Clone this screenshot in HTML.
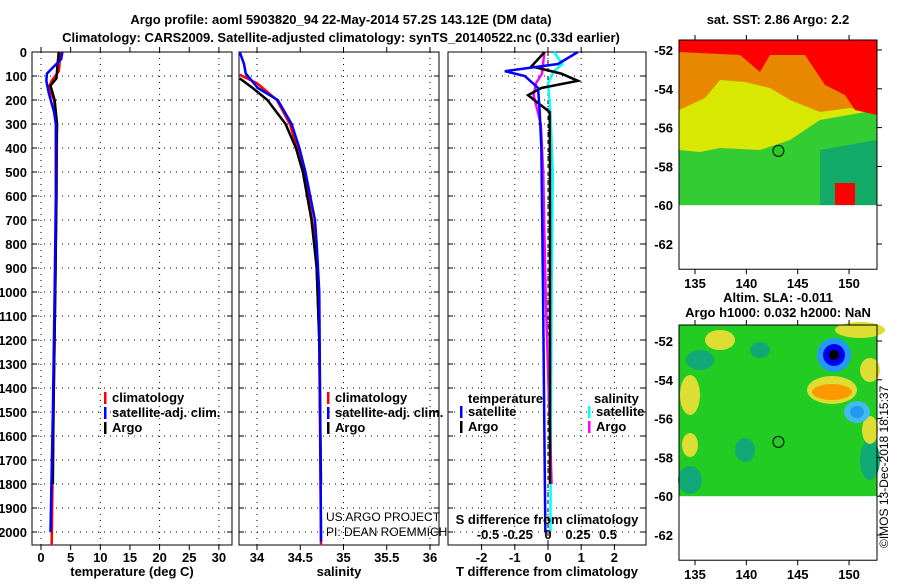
<!DOCTYPE html>
<html><head><meta charset="utf-8"><style>
body{margin:0;background:#fff}
svg text{font-family:"Liberation Sans",sans-serif;font-weight:bold;font-size:13px}
svg text.nb{font-weight:normal;font-size:12px}
</style></head><body>
<svg id="c" width="900" height="580" xmlns="http://www.w3.org/2000/svg">
<text x="341" y="24" text-anchor="middle" font-size="14">Argo profile: aoml 5903820_94 22-May-2014 57.2S 143.12E (DM data)</text>
<text x="341" y="42" text-anchor="middle" font-size="14">Climatology: CARS2009. Satellite-adjusted climatology: synTS_20140522.nc (0.33d earlier)</text>
<g id="maps"></g>
<g id="plots"></g>
</svg>
<script>
// depth ticks
const depthTicks=[0,100,200,300,400,500,600,700,800,900,1000,1100,1200,1300,1400,1500,1600,1700,1800,1900,2000];
// temperature panel
const tTicks=[0,5,10,15,20,25,30];
const tDepthArgo=[0,50,80,110,140,200,300,400,600,1000,1500,1800];
const tArgo=[3.0,2.8,2.7,2.6,1.6,2.3,2.7,2.6,2.6,2.4,2.1,2.0];
const tDepthClim=[0,60,80,120,150,200,300,600,1000,1500,2055];
const tClim=[3.2,3.1,3.0,1.8,1.3,2.2,2.7,2.6,2.4,2.1,1.8];
const tDepthSat=[0,30,60,90,120,170,250,300,600,1000,1500,2000];
const tSat=[3.6,3.4,2.2,1.0,0.9,1.3,2.2,2.5,2.5,2.3,2.0,1.6];
// salinity panel
const sTicks=[34,34.5,35,35.5,36];
const sDepthSat=[0,50,90,150,200,300,400,500,700,800,1000,2000,2040];
const sSat=[33.80,33.85,33.87,34.01,34.24,34.40,34.49,34.56,34.67,34.69,34.72,34.74,34.74];
const sDepthClim=[95,130,200,300,500,800,1200,2055];
const sClim=[33.80,34.0,34.23,34.38,34.55,34.68,34.72,34.74];
const sDepthArgo=[110,150,200,300,400,500,700,900,1200,1800];
const sArgo=[33.80,33.95,34.12,34.33,34.45,34.53,34.63,34.69,34.72,34.74];
// difference panel
const dtTicks=[-2,-1,0,1,2];
const dsTicks=[-0.5,-0.25,0,0.25,0.5];
const dDepthTS=[0,50,80,100,150,250,400,1000,2000];
const dTSat=[0.9,0.3,-1.3,-0.7,-0.3,-0.25,-0.2,-0.15,-0.08];
const dDepthTA=[0,60,90,120,150,180,250,500,1000,1800];
const dTArgo=[-0.1,-0.5,0.4,0.9,-0.2,-0.6,0.05,0.06,0.06,0.06];
const dDepthSS=[0,50,80,130,250,500,1000,2000];
const dSSat=[0.05,0.12,0.05,0,0.02,0.04,0.03,0.02];
const dDepthSA=[0,90,130,180,300,500,1000,1800];
const dSArgo=[-0.03,-0.05,-0.1,-0.12,-0.06,-0.04,-0.02,0.03];
// maps
const lonTicks=[135,140,145,150];
const latTicks=[-52,-54,-56,-58,-60,-62];
const argoLon=143.12, argoLat=-57.2;

const NS="http://www.w3.org/2000/svg";
function mk(tag,attrs,parent,txt){const e=document.createElementNS(NS,tag);for(const k in attrs)e.setAttribute(k,attrs[k]);if(txt!==undefined)e.textContent=txt;parent.appendChild(e);return e;}
const plots=document.getElementById('plots');
const top0=52,bot=545;
const yD=d=>top0+d*0.24;

function panel(name,x0,x1,xs,ticks,tickFmt,gridVals){
  const g=mk('g',{},plots);
  
  
  depthTicks.forEach(d=>{if(d>0)mk('line',{x1:x0,x2:x1,y1:yD(d),y2:yD(d),stroke:'#000','stroke-dasharray':'1,5'},g);});
  gridVals.forEach(v=>mk('line',{x1:xs(v),x2:xs(v),y1:top0,y2:bot,stroke:'#000','stroke-dasharray':'1,5'},g));
  depthTicks.forEach(d=>{mk('line',{x1:x0,x2:x0+5,y1:yD(d),y2:yD(d),stroke:'#000'},g);mk('line',{x1:x1-5,x2:x1,y1:yD(d),y2:yD(d),stroke:'#000'},g);});
  ticks.forEach(v=>{mk('line',{x1:xs(v),x2:xs(v),y1:bot,y2:bot+5,stroke:'#000'},g);mk('line',{x1:xs(v),x2:xs(v),y1:top0-5,y2:top0,stroke:'#000'},g);
    const t=mk('text',{x:xs(v),y:bot+17,'text-anchor':'middle'},g,tickFmt(v));});
  mk('rect',{x:x0,y:top0,width:x1-x0,height:bot-top0,fill:'none',stroke:'#000'},g);
  return g;
}
function line(g,xs,vals,depths,color,name,w){
  const p=mk('polyline',{points:vals.map((v,i)=>xs(v)+','+yD(depths[i])).join(' '),fill:'none',stroke:color,'stroke-width':w||2.5},g);
  
  
}
function legend(g,x,y,items){
  items.forEach((it,i)=>{mk('rect',{x:x,y:y+i*15-10,width:2.5,height:12,fill:it[1]},g);
    const t=mk('text',{x:x+8,y:y+i*15},g,it[0]);});
}
// depth labels
depthTicks.forEach(d=>{const t=mk('text',{x:27,y:yD(d)+5,'text-anchor':'end'},plots,String(d));});

// panel 1
const xT=v=>41+v*5.93;
const g1=panel('temperature-panel',32,232,xT,tTicks,String,[0,10,20,30]);
line(g1,xT,tClim,tDepthClim,'#f00','temp-climatology');
line(g1,xT,tArgo,tDepthArgo,'#000','temp-argo');
line(g1,xT,tSat,tDepthSat,'#00f','temp-satellite');
legend(g1,104,402,[['climatology','#f00'],['satellite-adj. clim.','#00f'],['Argo','#000']]);
mk('text',{x:132,y:576,'text-anchor':'middle'},g1,'temperature (deg C)');

// panel 2
const xS=v=>257+(v-34)*86.5;
const g2=panel('salinity-panel',239,439,xS,sTicks,String,[34,35,36]);
line(g2,xS,sClim,sDepthClim,'#f00','sal-climatology');
line(g2,xS,sArgo,sDepthArgo,'#000','sal-argo');
line(g2,xS,sSat,sDepthSat,'#00f','sal-satellite');
legend(g2,327,402,[['climatology','#f00'],['satellite-adj. clim.','#00f'],['Argo','#000']]);
mk('text',{x:339,y:576,'text-anchor':'middle'},g2,'salinity');
const c1=mk('text',{x:326,y:521,'class':'nb'},g2,'US ARGO PROJECT');
const c2=mk('text',{x:326,y:536,'class':'nb'},g2,'PI: DEAN ROEMMICH');

// panel 3
const xDT=v=>548+v*33.2;
const xDS=v=>548+v*120;
const g3=panel('difference-panel',448,646,xDT,dtTicks,String,[-2,-1,0,1,2]);
mk('line',{x1:548,x2:548,y1:top0,y2:bot,stroke:'#000','stroke-dasharray':'4,4'},g3);
line(g3,xDS,dSSat,dDepthSS,'#0ff','sdiff-satellite');
line(g3,xDS,dSArgo,dDepthSA,'#f0f','sdiff-argo');
line(g3,xDT,dTArgo,dDepthTA,'#000','tdiff-argo');
line(g3,xDT,dTSat,dDepthTS,'#00f','tdiff-satellite');
mk('text',{x:468,y:403},g3,'temperature');
legend(g3,460,416,[['satellite','#00f'],['Argo','#000']]);
mk('text',{x:594,y:403},g3,'salinity');
legend(g3,588,416,[['satellite','#0ff'],['Argo','#f0f']]);
mk('text',{x:547,y:524,'text-anchor':'middle'},g3,'S difference from climatology');
dsTicks.forEach(v=>mk('text',{x:xDS(v),y:539,'text-anchor':'middle'},g3,String(v)));
mk('text',{x:547,y:576,'text-anchor':'middle'},g3,'T difference from climatology');

// maps
const maps=document.getElementById('maps');
function map(name,yTop,yM52,title,draw){
  const g=mk('g',{},maps);
  
  
  const x0=679,x1=877,yb=yTop+(yM52-yTop)+(-63.3+52)*-19.4;
  const lx=v=>695+(v-135)*10.27, ly=v=>yM52+(-52-v)*19.4;
  draw(g,lx,ly,x0,x1);
  mk('rect',{x:x0,y:ly(-60),width:x1-x0,height:yb-ly(-60),fill:'#fff'},g);
  mk('circle',{cx:lx(argoLon),cy:ly(argoLat),r:5.5,fill:name==='sst-map'?'#2c2':'none',stroke:'#000'},g);
  mk('rect',{x:x0,y:yTop,width:x1-x0,height:yb-yTop,fill:'none',stroke:'#000'},g);
  latTicks.forEach(v=>{mk('line',{x1:x1,x2:x1+5,y1:ly(v),y2:ly(v),stroke:'#000'},g);
    mk('text',{x:x0-6,y:ly(v)+5,'text-anchor':'end'},g,String(v));});
  lonTicks.forEach(v=>{mk('line',{x1:lx(v),x2:lx(v),y1:yb,y2:yb+5,stroke:'#000'},g);mk('line',{x1:lx(v),x2:lx(v),y1:yTop-5,y2:yTop,stroke:'#000'},g);
    mk('text',{x:lx(v),y:yb+19,'text-anchor':'middle'},g,String(v));});
  title.forEach((t,i)=>mk('text',{x:778,y:(name==='sst-map'?24:302)+i*15,'text-anchor':'middle'},g,t));
}
map('sst-map',40,50,['sat. SST: 2.86 Argo: 2.2'],(g,lx,ly,x0,x1)=>{
  mk('rect',{x:x0,y:40,width:x1-x0,height:170,fill:'#d8e800'},g);
  mk('path',{d:'M679,150 L700,152 L720,148 L760,150 L790,140 L820,120 L877,110 L877,210 L679,210Z',fill:'#3c3'},g);
  mk('path',{d:'M820,150 L877,140 L877,210 L820,210Z',fill:'#1a6'},g);
  mk('path',{d:'M679,50 L877,50 L877,115 L850,108 L820,112 L790,100 L770,88 L745,82 L720,80 L705,98 L679,110Z',fill:'#e88800'},g);
  mk('path',{d:'M679,40 L877,40 L877,115 L855,110 L845,95 L825,85 L805,55 L770,55 L760,72 L740,55 L679,52Z',fill:'#f00'},g);
  mk('rect',{x:835,y:183,width:20,height:22,fill:'#f00'},g);
});
map('sla-map',325,341,['Altim. SLA: -0.011','Argo h1000: 0.032 h2000: NaN'],(g,lx,ly,x0,x1)=>{
  mk('rect',{x:x0,y:325,width:x1-x0,height:175,fill:'#2c2'},g);
  [[700,360,14,10],[760,350,10,8],[690,480,12,14],[745,450,10,12],[870,460,10,20]].forEach(e=>mk('ellipse',{cx:e[0],cy:e[1],rx:e[2],ry:e[3],fill:'#1a7'},g));
  [[690,395,10,20],[690,445,8,12],[720,340,15,10],[860,330,25,8],[870,370,10,12],[832,390,25,14],[870,430,8,14]].forEach(e=>mk('ellipse',{cx:e[0],cy:e[1],rx:e[2],ry:e[3],fill:'#dd3'},g));
  mk('ellipse',{cx:832,cy:392,rx:20,ry:8,fill:'#f90'},g);
  mk('circle',{cx:834,cy:355,r:17,fill:'#29f'},g);
  mk('circle',{cx:834,cy:355,r:11,fill:'#00e'},g);
  mk('circle',{cx:834,cy:355,r:5,fill:'#000'},g);
  mk('ellipse',{cx:857,cy:412,rx:13,ry:11,fill:'#4be'},g);
  mk('ellipse',{cx:857,cy:412,rx:7,ry:6,fill:'#29e'},g);
});
const st=mk('text',{x:0,y:0,'class':'nb',transform:'translate(888,548) rotate(-90)'},maps,'©IMOS 13-Dec-2018 18:15:37');


</script>
</body></html>
